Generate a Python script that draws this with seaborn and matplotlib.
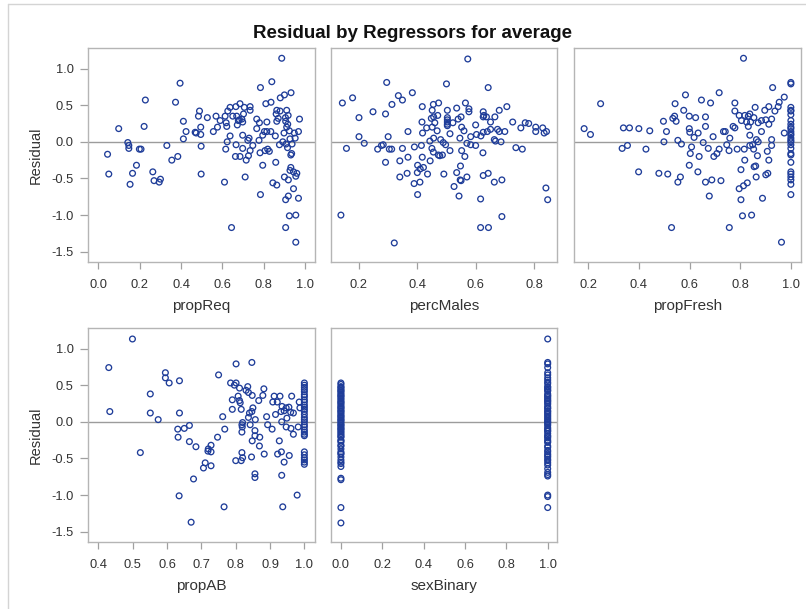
import numpy as np
import pandas as pd
import matplotlib
matplotlib.use("Agg")
import matplotlib.pyplot as plt
import seaborn as sns
from matplotlib.lines import Line2D

# ---------------- data ----------------
propReq = [0.887, 0.395, 0.839, 0.784, 0.227, 0.373, 0.932, 0.900, 0.880, 0.835,
           0.810, 0.685, 0.665, 0.637, 0.706, 0.734, 0.734, 0.489, 0.484, 0.527,
           0.569, 0.613, 0.626, 0.650, 0.669, 0.702, 0.694, 0.677, 0.698, 0.589,
           0.618, 0.576, 0.556, 0.621, 0.411, 0.424, 0.468, 0.495, 0.473, 0.495,
           0.411, 0.221, 0.098, 0.863, 0.879, 0.911, 0.860, 0.766, 0.779, 0.815,
           0.863, 0.906, 0.916, 0.911, 0.973, 0.766, 0.803, 0.815, 0.834, 0.795,
           0.856, 0.898, 0.924, 0.948, 0.968, 0.952, 0.927, 0.892, 0.908, 0.876,
           0.937, 0.915, 0.931, 0.935, 0.777, 0.729, 0.723, 0.698, 0.637, 0.623,
           0.747, 0.666, 0.698, 0.734, 0.616, 0.726, 0.715, 0.663, 0.685, 0.782,
           0.806, 0.819, 0.827, 0.795, 0.858, 0.931, 0.927, 0.944, 0.960, 0.955,
           0.900, 0.919, 0.844, 0.863, 0.944, 0.710, 0.610, 0.497, 0.331, 0.384,
           0.355, 0.497, 0.142, 0.147, 0.147, 0.198, 0.206, 0.044, 0.184, 0.050,
           0.165, 0.153, 0.263, 0.269, 0.294, 0.300, 0.784, 0.919, 0.906, 0.968,
           0.924, 0.955, 0.906, 0.644, 0.955, 0.682, 0.672, 0.905, 0.918, 0.870]
resid_propReq = [1.14, 0.80, 0.82, 0.74, 0.57, 0.54, 0.67, 0.64, 0.60, 0.54,
                 0.52, 0.52, 0.48, 0.47, 0.47, 0.48, 0.43, 0.42, 0.35, 0.33,
                 0.35, 0.35, 0.42, 0.35, 0.35, 0.38, 0.31, 0.29, 0.27, 0.29,
                 0.26, 0.20, 0.14, 0.21, 0.28, 0.14, 0.13, 0.10, 0.12, 0.20,
                 0.04, 0.21, 0.18, 0.43, 0.42, 0.43, 0.38, 0.31, 0.26, 0.27,
                 0.28, 0.28, 0.24, 0.20, 0.31, 0.18, 0.14, 0.14, 0.14, 0.09,
                 0.08, 0.12, 0.15, 0.12, 0.14, 0.05, 0.04, 0.00, -0.03, -0.04,
                 -0.03, -0.08, -0.18, -0.16, 0.02, 0.05, 0.02, 0.09, 0.08, 0.00,
                 -0.05, -0.04, -0.09, -0.12, -0.10, -0.19, -0.25, -0.20, -0.20, -0.15,
                 -0.12, -0.10, -0.13, -0.32, -0.28, -0.35, -0.39, -0.41, -0.43, -0.47,
                 -0.48, -0.52, -0.56, -0.59, -0.64, -0.48, -0.55, -0.06, -0.05, -0.20,
                 -0.25, -0.44, -0.01, -0.05, -0.09, -0.10, -0.10, -0.17, -0.32, -0.44,
                 -0.43, -0.58, -0.41, -0.53, -0.55, -0.51, -0.72, -0.74, -0.79, -0.77,
                 -1.01, -1.00, -1.17, -1.17, -1.37, 0.30, 0.23, 0.33, 0.36, 0.32]

percMales = [0.573, 0.295, 0.500, 0.643, 0.143, 0.178, 0.335, 0.349, 0.383, 0.313,
             0.248, 0.291, 0.200, 0.417, 0.455, 0.473, 0.451, 0.456, 0.470, 0.416,
             0.432, 0.451, 0.460, 0.418, 0.368, 0.503, 0.503, 0.503, 0.503, 0.503,
             0.503, 0.535, 0.565, 0.577, 0.577, 0.540, 0.550, 0.552, 0.560, 0.512,
             0.522, 0.626, 0.626, 0.637, 0.651, 0.666, 0.681, 0.707, 0.727, 0.651,
             0.640, 0.626, 0.618, 0.603, 0.583, 0.546, 0.675, 0.681, 0.700, 0.755,
             0.770, 0.782, 0.806, 0.806, 0.830, 0.835, 0.843, 0.664, 0.668, 0.687,
             0.570, 0.583, 0.600, 0.738, 0.760, 0.625, 0.563, 0.552, 0.512, 0.480,
             0.456, 0.443, 0.497, 0.489, 0.414, 0.390, 0.450, 0.455, 0.472, 0.477,
             0.486, 0.444, 0.417, 0.401, 0.410, 0.400, 0.421, 0.435, 0.409, 0.389,
             0.401, 0.368, 0.365, 0.340, 0.340, 0.291, 0.349, 0.312, 0.304, 0.264,
             0.283, 0.277, 0.300, 0.218, 0.200, 0.157, 0.491, 0.535, 0.548, 0.547,
             0.550, 0.570, 0.526, 0.543, 0.626, 0.643, 0.664, 0.690, 0.617, 0.690,
             0.617, 0.644, 0.841, 0.847, 0.138, 0.321, 0.628, 0.468, 0.448, 0.600]
resid_percMales = [1.13, 0.81, 0.79, 0.74, 0.53, 0.60, 0.63, 0.57, 0.67, 0.51,
                   0.41, 0.38, 0.33, 0.48, 0.51, 0.53, 0.43, 0.34, 0.36, 0.27,
                   0.19, 0.20, 0.26, 0.12, 0.14, 0.43, 0.33, 0.30, 0.27, 0.24,
                   0.22, 0.46, 0.53, 0.45, 0.41, 0.31, 0.34, 0.20, 0.15, 0.11,
                   0.26, 0.41, 0.34, 0.34, 0.27, 0.34, 0.43, 0.48, 0.27, 0.17,
                   0.14, 0.13, 0.08, 0.10, 0.07, 0.05, 0.17, 0.14, 0.14, 0.19,
                   0.26, 0.25, 0.20, 0.14, 0.19, 0.12, 0.14, 0.03, 0.01, 0.00,
                   -0.02, -0.04, -0.05, -0.08, -0.10, -0.15, -0.20, -0.12, -0.12, 0.03,
                   0.05, 0.01, -0.04, -0.01, -0.05, -0.07, -0.09, -0.14, -0.18, -0.19,
                   -0.18, -0.26, -0.21, -0.32, -0.37, -0.42, -0.35, -0.44, -0.55, -0.57,
                   -0.72, -0.21, -0.43, -0.48, -0.26, -0.28, -0.09, -0.10, -0.10, -0.10,
                   -0.04, -0.05, 0.07, -0.02, 0.07, -0.09, -0.44, -0.42, -0.33, -0.52,
                   -0.53, -0.48, -0.61, -0.74, -0.46, -0.43, -0.55, -0.52, -0.78, -1.02,
                   -1.17, -1.17, -0.63, -0.79, -1.00, -1.38, 0.36, 0.15, 0.32, 0.23]

propFresh = [0.813, 1.000, 1.000, 0.928, 0.717, 0.584, 0.647, 0.683, 0.974, 0.954,
             0.950, 0.913, 0.897, 0.937, 0.859, 0.779, 0.779, 0.249, 0.543, 0.577,
             0.541, 0.547, 0.534, 0.599, 0.624, 0.663, 0.663, 0.497, 0.599, 0.601,
             0.618, 0.634, 0.509, 0.443, 0.400, 0.363, 0.339, 0.184, 0.209, 0.334,
             0.355, 0.499, 0.554, 0.568, 0.608, 0.654, 0.674, 0.693, 0.734, 0.741,
             0.759, 0.772, 0.779, 0.796, 0.805, 0.818, 0.832, 0.838, 0.825, 0.841,
             0.832, 0.854, 0.871, 0.884, 0.901, 0.913, 0.924, 0.884, 0.838, 0.864,
             0.871, 0.924, 0.924, 0.974, 0.849, 0.853, 0.838, 0.868, 0.816, 0.788,
             0.756, 0.747, 0.717, 0.708, 0.696, 0.638, 0.603, 0.599, 0.633, 0.428,
             0.818, 0.803, 0.907, 0.913, 0.861, 0.855, 0.863, 0.901, 0.909, 0.399,
             0.479, 0.514, 0.564, 0.554, 0.663, 0.688, 0.724, 0.678, 0.796, 0.813,
             0.828, 0.803, 0.888, 0.809, 0.845, 0.529, 0.757, 0.963,
             1.000, 1.000, 1.000, 1.000, 1.000, 1.000, 1.000, 1.000, 1.000, 1.000,
             1.000, 1.000, 1.000, 1.000, 1.000, 1.000, 1.000, 1.000, 1.000, 1.000,
             1.000, 1.000, 1.000, 1.000, 1.000]
resid_propFresh = [1.14, 0.81, 0.79, 0.74, 0.67, 0.64, 0.57, 0.53, 0.61, 0.54,
                   0.48, 0.48, 0.43, 0.42, 0.47, 0.53, 0.42, 0.52, 0.52, 0.43,
                   0.35, 0.28, 0.32, 0.35, 0.33, 0.34, 0.21, 0.28, 0.18, 0.13,
                   0.06, 0.12, 0.14, 0.15, 0.18, 0.19, 0.19, 0.18, 0.10, -0.09,
                   -0.05, 0.00, 0.02, -0.03, -0.07, -0.01, -0.09, 0.07, 0.14, 0.14,
                   0.05, 0.21, 0.19, 0.36, 0.29, 0.36, 0.35, 0.38, 0.27, 0.27,
                   0.21, 0.33, 0.26, 0.29, 0.30, 0.24, 0.31, 0.14, 0.09, 0.03,
                   0.00, 0.03, -0.05, 0.12, -0.04, -0.10, -0.05, -0.19, -0.10, -0.10,
                   -0.12, -0.04, -0.10, -0.16, -0.20, -0.20, -0.16, -0.32, -0.41, -0.10,
                   -0.25, -0.38, -0.13, -0.25, -0.33, -0.34, -0.48, -0.45, -0.43, -0.41,
                   -0.43, -0.44, -0.48, -0.55, -0.55, -0.52, -0.53, -0.74, -0.64, -0.60,
                   -0.56, -0.79, -0.77, -1.01, -1.00, -1.17, -1.17, -1.37,
                   0.47, 0.43, 0.42, 0.37, 0.29, 0.24, 0.20, 0.18, 0.14, 0.11,
                   0.09, 0.05, 0.02, 0.00, -0.04, -0.09, -0.16, -0.18, -0.28, -0.41,
                   -0.44, -0.48, -0.52, -0.58, -0.72]

propAB = [0.499, 0.430, 0.433, 0.801, 0.847, 0.595, 0.595, 0.606, 0.636, 0.750,
          0.551, 0.551, 0.574, 0.636, 0.522, 0.785, 0.796, 0.801, 0.811, 0.835,
          0.830, 0.837, 0.882, 0.879, 0.848, 0.867, 0.807, 0.811, 0.813, 0.790,
          0.790, 0.816, 0.850, 0.847, 0.840, 0.837, 0.762, 0.820, 0.818, 0.819,
          0.842, 0.857, 0.890, 0.916, 0.912, 0.929, 0.908, 0.921, 0.935, 0.941,
          0.932, 0.963, 0.955, 0.960, 0.968, 0.947, 0.985, 0.987, 0.934, 0.949,
          0.893, 0.906, 0.947, 0.961, 0.968, 0.982, 0.768, 0.747, 0.818, 0.856,
          0.856, 0.870, 0.848, 0.869, 0.927, 0.631, 0.632, 0.650, 0.665, 0.665,
          0.684, 0.728, 0.720, 0.719, 0.728, 0.711, 0.706, 0.728, 0.677, 0.635,
          0.670, 0.766, 0.800, 0.816, 0.820, 0.818, 0.846, 0.856, 0.856, 0.883,
          0.922, 0.933, 0.956, 0.941, 0.934, 0.937, 0.979,
          1.000, 1.000, 1.000, 1.000, 1.000, 1.000, 1.000, 1.000, 1.000, 1.000,
          1.000, 1.000, 1.000, 1.000, 1.000, 1.000, 1.000, 1.000, 1.000, 1.000,
          1.000, 1.000, 1.000, 1.000, 1.000, 1.000, 1.000, 1.000, 1.000]
resid_propAB = [1.13, 0.74, 0.14, 0.79, 0.81, 0.67, 0.60, 0.53, 0.56, 0.64,
                0.38, 0.12, 0.03, 0.12, -0.42, 0.53, 0.50, 0.53, 0.46, 0.48,
                0.43, 0.40, 0.45, 0.36, 0.36, 0.29, 0.35, 0.29, 0.26, 0.30,
                0.17, 0.17, 0.19, 0.14, 0.12, 0.06, 0.07, -0.01, -0.04, -0.07,
                -0.04, 0.03, 0.07, 0.10, 0.35, 0.35, 0.27, 0.27, 0.21, 0.15,
                0.14, 0.35, 0.20, 0.13, 0.12, 0.19, 0.27, 0.19, 0.00, 0.05,
                -0.04, -0.10, -0.07, -0.09, -0.17, -0.07, -0.10, -0.21, -0.14, -0.12,
                -0.19, -0.21, -0.26, -0.33, -0.26, -0.10, -0.21, -0.09, -0.05, -0.27,
                -0.34, -0.32, -0.37, -0.40, -0.41, -0.56, -0.63, -0.60, -0.78, -1.01,
                -1.37, -1.16, -0.53, -0.53, -0.49, -0.42, -0.48, -0.71, -0.76, -0.44,
                -0.44, -0.41, -0.46, -0.55, -0.73, -1.16, -1.00,
                0.53, 0.50, 0.47, 0.44, 0.41, 0.37, 0.34, 0.30, 0.27, 0.23,
                0.20, 0.17, 0.14, 0.10, 0.06, 0.03, 0.00, -0.04, -0.07, -0.11,
                -0.14, -0.17, -0.19, -0.41, -0.45, -0.49, -0.52, -0.55, -0.58]

resid_sex0 = [0.53, 0.51, 0.48, 0.47, 0.45, 0.43, 0.42, 0.40, 0.38, 0.36,
              0.35, 0.33, 0.31, 0.29, 0.27, 0.26, 0.24, 0.22, 0.20, 0.19,
              0.17, 0.15, 0.14, 0.12, 0.10, 0.08, 0.07, 0.05, 0.03, 0.02,
              0.00, -0.02, -0.04, -0.05, -0.07, -0.09, -0.10, -0.12, -0.14, -0.16,
              -0.18, -0.20, -0.21, -0.25, -0.26, -0.28, -0.32, -0.33, -0.37, -0.41,
              -0.43, -0.44, -0.48, -0.52, -0.55, -0.57, -0.61, -0.77, -0.79, -1.17,
              -1.38]
resid_sex1 = [1.13, 0.81, 0.79, 0.74, 0.67, 0.64, 0.60, 0.57, 0.54, 0.52,
              0.48, 0.47, 0.45, 0.43, 0.42, 0.38, 0.36, 0.35, 0.33, 0.31,
              0.29, 0.28, 0.26, 0.24, 0.21, 0.19, 0.18, 0.15, 0.14, 0.12,
              0.10, 0.08, 0.06, 0.04, 0.02, 0.00, -0.01, -0.03, -0.05, -0.08,
              -0.10, -0.12, -0.13, -0.16, -0.19, -0.20, -0.22, -0.25, -0.27, -0.28,
              -0.33, -0.35, -0.39, -0.41, -0.44, -0.46, -0.48, -0.51, -0.53, -0.56,
              -0.59, -0.64, -0.69, -0.72, -0.74, -1.00, -1.02, -1.17]
sexBinary = [0] * len(resid_sex0) + [1] * len(resid_sex1)
resid_sexBinary = resid_sex0 + resid_sex1

y_ticks = [-1.5, -1.0, -0.5, 0.0, 0.5, 1.0]
y_ticklabels = ["-1.5", "-1.0", "-0.5", "0.0", "0.5", "1.0"]

# ---------------- styling ----------------
sns.set_theme(style="white")
plt.rcParams["font.family"] = ["Liberation Sans", "DejaVu Sans"]

W, H = 806, 609
fig = plt.figure(figsize=(W / 100, H / 100), dpi=100)

MARK = "#1f3d99"
FRAME = "#b5b5b5"
TXT = "#333333"


def pos(l, r, t, b):
    return [l / W, 1 - b / H, (r - l) / W, (b - t) / H]


panels = [
    ("propReq", propReq, resid_propReq, (-0.053, 1.048), [0, 0.2, 0.4, 0.6, 0.8, 1.0], (87.5, 315, 48, 262), True),
    ("percMales", percMales, resid_percMales, (0.104, 0.879), [0.2, 0.4, 0.6, 0.8], (331, 557, 48, 262), False),
    ("propFresh", propFresh, resid_propFresh, (0.144, 1.040), [0.2, 0.4, 0.6, 0.8, 1.0], (574, 801, 48, 262), False),
    ("propAB", propAB, resid_propAB, (0.368, 1.031), [0.4, 0.5, 0.6, 0.7, 0.8, 0.9, 1.0], (87.5, 315, 328, 542), True),
    ("sexBinary", sexBinary, resid_sexBinary, (-0.048, 1.045), [0, 0.2, 0.4, 0.6, 0.8, 1.0], (331, 557, 328, 542), False),
]

for name, xs, ys, xlim, xticks, box, show_y in panels:
    ax = fig.add_axes(pos(*box))
    df = pd.DataFrame({name: xs, "Residual": ys})
    ax.axhline(0, color="#9c9c9c", lw=1.0, zorder=1)
    sns.scatterplot(data=df, x=name, y="Residual", ax=ax, marker="o",
                    facecolor="none", edgecolor=MARK, s=17, linewidth=0.95,
                    zorder=3)
    ax.set_xlim(*xlim)
    ax.set_ylim(-1.64, 1.28)
    ax.set_xticks(xticks)
    ax.set_xticklabels([f"{t:.1f}" for t in xticks])
    for sp in ax.spines.values():
        sp.set_color(FRAME)
        sp.set_linewidth(1.0)
    ax.tick_params(axis="x", direction="out", length=5, width=0.9, color="#a0a0a0",
                   labelsize=9.3, labelcolor=TXT, pad=7.5, bottom=True)
    ax.set_xlabel(name, fontsize=11, color=TXT)
    ax.xaxis.set_label_coords(0.5, -0.172)
    if show_y:
        ax.set_yticks(y_ticks)
        ax.set_yticklabels(y_ticklabels)
        ax.tick_params(axis="y", direction="out", length=6, width=0.9, color="#a0a0a0",
                       labelsize=9.3, labelcolor=TXT, pad=4, left=True)
        ax.set_ylabel("Residual", fontsize=10.5, color=TXT)
        ax.yaxis.set_label_coords(-0.198, 0.5)
    else:
        ax.set_yticks([])
        ax.set_ylabel("")

fig.text(412 / W, 1 - 38.5 / H, "Residual by Regressors for average",
         ha="center", va="baseline", fontsize=13.5, fontweight="bold", color="#111111")

# outer frame lines (left and top)
fig.add_artist(Line2D([8 / W, 8 / W], [0, 1 - 4 / H], color="#d4d4d4", lw=1.0))
fig.add_artist(Line2D([8 / W, 1], [1 - 4 / H, 1 - 4 / H], color="#d4d4d4", lw=1.0))

fig.savefig("out.png", dpi=100, facecolor="white")
